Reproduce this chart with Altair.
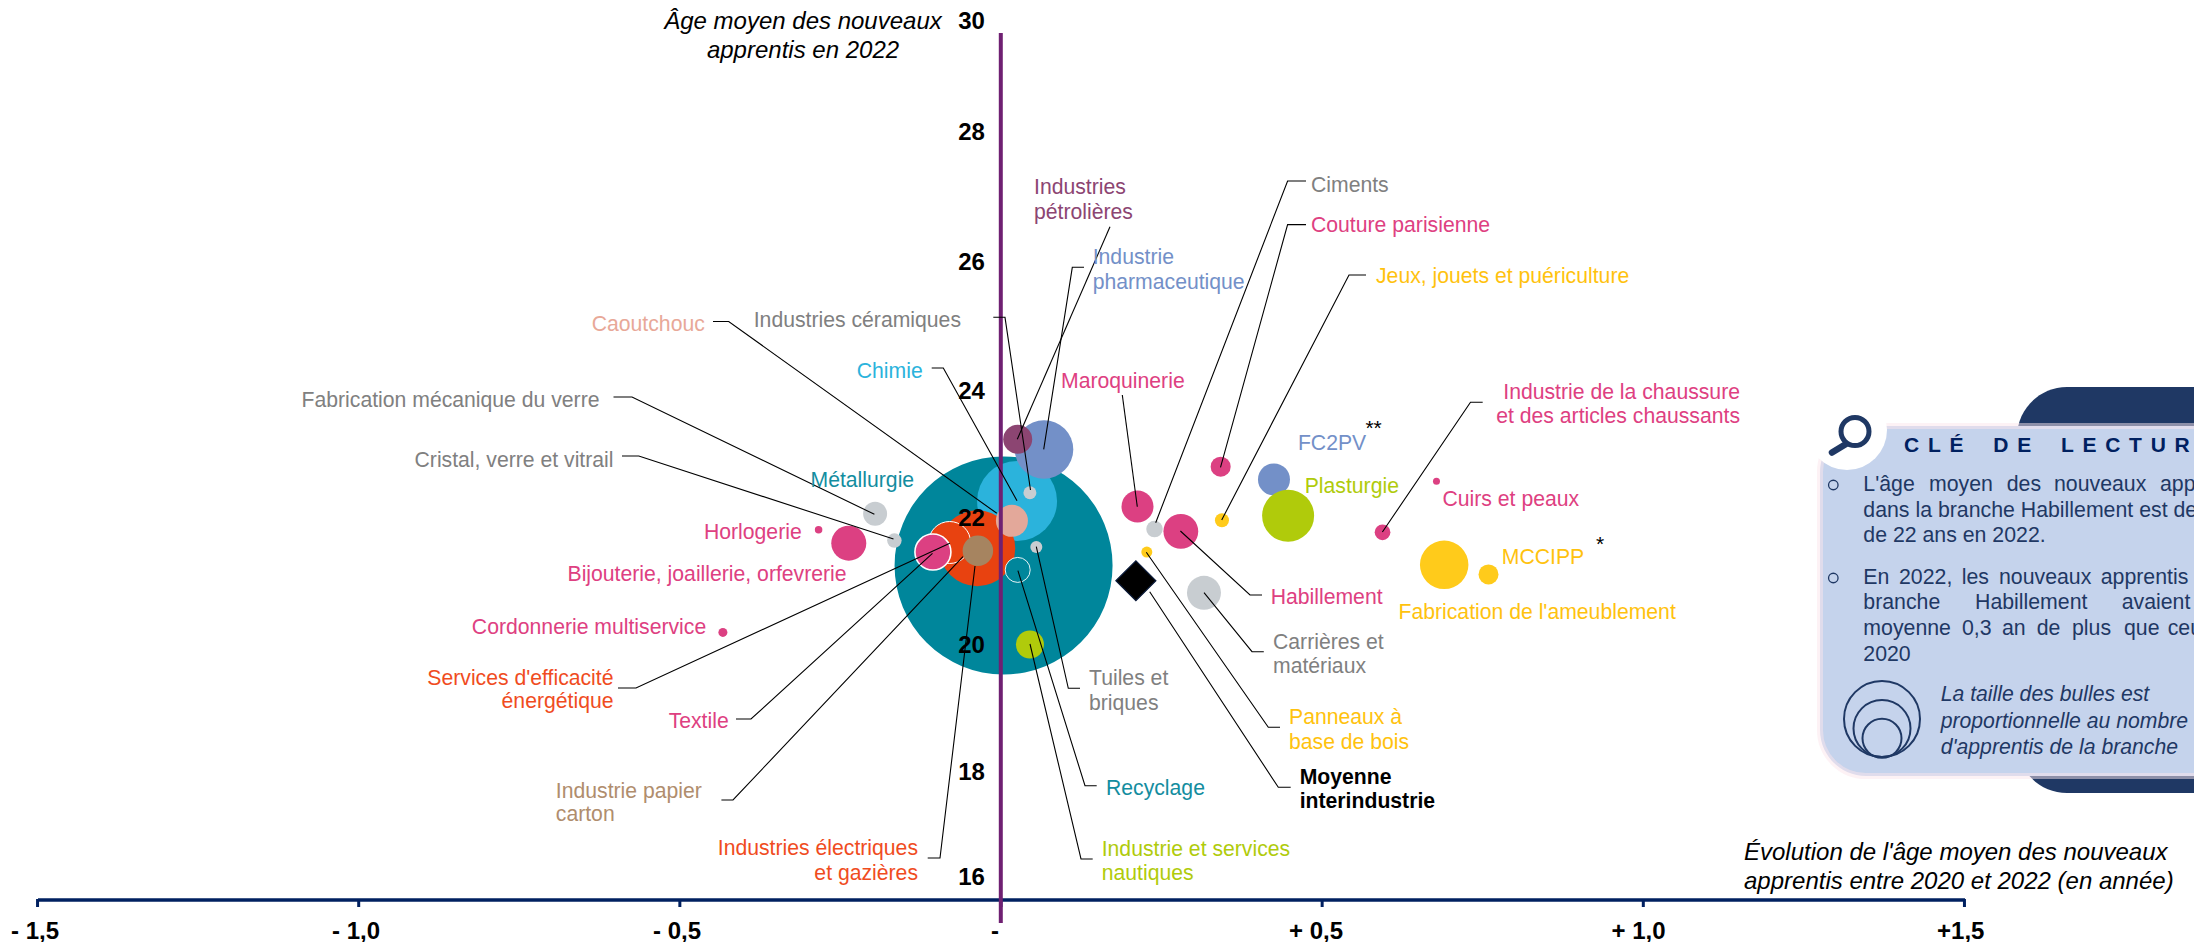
import altair as alt
import pandas as pd

# ---------- chart values (x: évolution en année, y: âge moyen, d: taille de bulle) ----------
TEAL, SKY, ORANGE, TAN, SALMON = "#00869B", "#2BB3DC", "#E84210", "#A68460", "#E3A89A"
PLUM, BLUE, GREY, LIME, PINK, YELLOW = "#8C4572", "#7390C8", "#C8CDD1", "#B0CB0B", "#DC4082", "#FFCB1B"

names = ["Métallurgie", "Chimie", "Industrie pharmaceutique", "Industries pétrolières",
         "Industries électriques et gazières", "Services d'efficacité énergétique", "Textile",
         "Industrie papier carton", "Caoutchouc", "Industries céramiques", "Tuiles et briques",
         "Recyclage", "Industrie et services nautiques", "Fabrication mécanique du verre",
         "Cristal, verre et vitrail", "Horlogerie", "Bijouterie, joaillerie, orfevrerie",
         "Cordonnerie multiservice", "Maroquinerie", "Ciments", "Habillement",
         "Panneaux à base de bois", "Carrières et matériaux", "Couture parisienne",
         "Jeux, jouets et puériculture", "FC2PV", "Plasturgie",
         "Industrie de la chaussure", "Cuirs et peaux", "Fabrication de l'ameublement", "MCCIPP"]
evolution = [0.004, 0.025, 0.067, 0.026, -0.037, -0.08, -0.106, -0.036, 0.017, 0.045, 0.055, 0.026, 0.045,
             -0.196, -0.166, -0.284, -0.237, -0.433, 0.2125, 0.239, 0.28, 0.227, 0.316, 0.342, 0.344,
             0.425, 0.447, 0.594, 0.678, 0.69, 0.759]
age = [21.24, 22.25, 23.06, 23.22, 21.51, 21.6, 21.45, 21.47, 21.94, 22.38, 21.53, 21.17, 20.0,
       22.05, 21.63, 21.8, 21.59, 20.19, 22.165, 21.81, 21.775, 21.45, 20.81, 22.79, 21.95,
       22.59, 22.02, 21.76, 22.56, 21.25, 21.1]
bubble = [218, 80, 58.5, 29, 76, 42, 36, 30.5, 32, 13, 12, 25, 28,
          24, 14.5, 7.5, 35, 9, 32, 16.5, 34.8, 11, 34, 20, 14,
          32, 52, 15.7, 7, 48.5, 20]
colours = [TEAL, SKY, BLUE, PLUM, ORANGE, ORANGE, PINK, TAN, SALMON, GREY, GREY, TEAL, LIME,
           GREY, GREY, PINK, PINK, PINK, PINK, GREY, PINK, YELLOW, GREY, PINK, YELLOW,
           BLUE, LIME, PINK, PINK, YELLOW, YELLOW]
outline = {"Services d'efficacité énergétique": 1.0, "Textile": 1.6, "Recyclage": 0.9}
avg_x, avg_y = [0.21], [21.0]

x_ticks = [-1.5, -1.0, -0.5, 0.0, 0.5, 1.0, 1.5]
y_labels = ["30", "28", "26", "24", "22", "20", "18", "16"]

# ---------- page reading -> scale units (for annotations) ----------
def dx(px): return (px - 1001) / 642.3
def dy(py): return 22 - (py - 517) / 63.75

xs = alt.Scale(domain=[dx(8), dx(2194)], nice=False, zero=False)
ys = alt.Scale(domain=[dy(942), dy(8)], nice=False, zero=False)
X = alt.X("x:Q", scale=xs, axis=None)
Y = alt.Y("y:Q", scale=ys, axis=None)
FONT = "Liberation Sans"
NAVY = "#002060"
INK = "#1F3864"
LPINK, LGREY, LYEL, LTEAL = "#DE4081", "#808080", "#FFC20E", "#138D9F"


def text_layer(rows, size=21.2, **kw):
    df = pd.DataFrame([{"text": r[0], "x": dx(r[1]), "y": dy(r[2] + 1.8), "c": r[3]} for r in rows])
    return alt.Chart(df).mark_text(font=FONT, fontSize=size, baseline="middle", **kw).encode(
        x=X, y=Y, text="text:N", color=alt.Color("c:N", scale=None))


def rect(px0, px1, py0, py1, colour, **kw):
    df = pd.DataFrame([{"x": dx(px0), "x2": dx(px1), "y": dy(py0), "y2": dy(py1)}])
    return alt.Chart(df).mark_rect(color=colour, **kw).encode(x=X, x2="x2:Q", y=Y, y2="y2:Q")


def segs(rows, colour, width, **kw):
    df = pd.DataFrame([{"x": dx(a), "x2": dx(c), "y": dy(b), "y2": dy(d)} for a, b, c, d in rows])
    return alt.Chart(df).mark_rule(color=colour, strokeWidth=width, **kw).encode(x=X, x2="x2:Q", y=Y, y2="y2:Q")


def rings(rows, **kw):
    df = pd.DataFrame([{"x": dx(a), "y": dy(b), "s": d * d} for a, b, d in rows])
    return alt.Chart(df).mark_point(opacity=1, **kw).encode(x=X, y=Y, size=alt.Size("s:Q", scale=None))


# ---------- bubbles ----------
bdf = pd.DataFrame({"name": names, "x": evolution, "y": age, "d": bubble, "c": colours})
bdf["s"] = bdf["d"] ** 2
bdf["sw"] = [outline.get(n, 0) for n in names]
bubbles = alt.Chart(bdf).mark_point(filled=True, opacity=1, shape="circle").encode(
    x=X, y=Y, size=alt.Size("s:Q", scale=None), color=alt.Color("c:N", scale=None),
    stroke=alt.value("white"), strokeWidth=alt.StrokeWidth("sw:Q", scale=None))
diamond = alt.Chart(pd.DataFrame({"x": avg_x, "y": avg_y})).mark_point(
    shape="diamond", filled=True, opacity=1, size=1600, color="black", stroke="#0B1B3A", strokeWidth=1.2
).encode(x=X, y=Y)

# ---------- leaders ----------
leaders = [
    [(1306, 181), (1287.6, 181), (1155.7, 522.7)],
    [(1306, 224.6), (1287.6, 224.6), (1220.5, 467.3)],
    [(1366, 275), (1349, 275), (1221.7, 520)],
    [(1482.7, 402.3), (1470.5, 402.3), (1382.4, 532)],
    [(1122.3, 395), (1137.3, 506.7)],
    [(1180.4, 531), (1250, 595), (1262, 595)],
    [(1204, 592.7), (1252, 651.7), (1263.8, 651.7)],
    [(1146.3, 552.3), (1268.3, 727.3), (1280, 727.3)],
    [(1149.7, 591.7), (1278.3, 787.3), (1290.7, 787.3)],
    [(1036.3, 546.7), (1068.3, 688.3), (1080, 688.3)],
    [(1017.9, 570.7), (1085, 785.7), (1096.7, 785.7)],
    [(1030, 644), (1081, 859), (1092.7, 859)],
    [(975, 566), (940, 858), (927.7, 858)],
    [(963, 556.7), (733, 800), (721.4, 800)],
    [(932.5, 553.3), (751, 719), (736, 719)],
    [(949.8, 543.3), (636, 688), (618, 688)],
    [(893.5, 539), (638.8, 456), (622, 456)],
    [(874.4, 514.3), (632, 397), (613.5, 397)],
    [(996.8, 513.3), (728.7, 321.5), (713, 321.5)],
    [(1017, 500.7), (943.3, 368), (931.7, 368)],
    [(1030.5, 490), (1005, 317.3), (993.3, 317.3)],
    [(1110, 226.7), (1017.3, 439.3)],
    [(1084, 267.3), (1072.3, 267.3), (1043.7, 449.3)],
]
leader_rows = [{"id": i, "k": k, "x": dx(p[0]), "y": dy(p[1])} for i, pts in enumerate(leaders) for k, p in enumerate(pts)]
leader_layer = alt.Chart(pd.DataFrame(leader_rows)).mark_line(color="#000000", strokeWidth=1.1).encode(
    x=X, y=Y, detail="id:N", order="k:Q")

# ---------- labels ----------
left = [
    ("Industries", 1034, 186, PLUM), ("pétrolières", 1034, 211, PLUM),
    ("Industrie", 1092.7, 256, BLUE), ("pharmaceutique", 1092.7, 281, BLUE),
    ("Ciments", 1311, 184, LGREY), ("Couture parisienne", 1311, 224.6, LPINK),
    ("Jeux, jouets et puériculture", 1376, 275, LYEL), ("Maroquinerie", 1061, 380, LPINK),
    ("Métallurgie", 810.5, 478.7, LTEAL), ("Industrie papier", 555.8, 790, "#B08D6D"), ("carton", 555.8, 813, "#B08D6D"),
    ("Industrie et services", 1101.7, 847.7, LIME), ("nautiques", 1101.7, 871.7, LIME),
    ("Recyclage", 1106, 786.7, LTEAL), ("Tuiles et", 1089, 677, LGREY), ("briques", 1089, 701.7, LGREY),
    ("Panneaux à", 1289, 715.7, LYEL), ("base de bois", 1289, 740.7, LYEL),
    ("Carrières et", 1273, 640.7, LGREY), ("matériaux", 1273, 665, LGREY),
    ("Habillement", 1270.7, 595.7, LPINK), ("Fabrication de l'ameublement", 1398.5, 610.7, LYEL),
    ("MCCIPP", 1501.8, 556.3, LYEL), ("Cuirs et peaux", 1442.5, 497.7, LPINK),
    ("Plasturgie", 1304.7, 484.7, LIME), ("FC2PV", 1297.9, 442.3, BLUE),
]
right = [
    ("Caoutchouc", 704.8, 323, "#E8A898"), ("Industries céramiques", 961, 319, LGREY), ("Chimie", 922.7, 370, SKY),
    ("Fabrication mécanique du verre", 599.5, 398.7, LGREY), ("Cristal, verre et vitrail", 613.5, 459, LGREY),
    ("Horlogerie", 801.7, 530.7, LPINK), ("Bijouterie, joaillerie, orfevrerie", 846.6, 573.3, LPINK),
    ("Cordonnerie multiservice", 706.2, 626, LPINK),
    ("Services d'efficacité", 613.5, 677, "#F04C1E"), ("énergétique", 613.5, 700.6, "#F04C1E"),
    ("Textile", 728.7, 720, LPINK), ("Industries électriques", 918, 846.7, "#F04C1E"), ("et gazières", 918, 872.3, "#F04C1E"),
    ("Industrie de la chaussure", 1740, 390.7, LPINK), ("et des articles chaussants", 1740, 415, LPINK),
]
bold = [("Moyenne", 1299.7, 776, "black"), ("interindustrie", 1299.7, 800, "black")]
stars = [("**", 1373.6, 427, "black"), ("*", 1600, 543, "black")]

y_pos = [20, 131, 261, 390, 517, 644, 771, 876]
y_rows = [(t, 971.5, p, "black") for t, p in zip(y_labels, y_pos)]
x_rows = [("- 1,5", 35, 930, "black"), ("- 1,0", 356, 930, "black"), ("- 0,5", 677, 930, "black"), ("-", 995, 930, "black"),
          ("+ 0,5", 1316, 930, "black"), ("+ 1,0", 1638.5, 930, "black"), ("+1,5", 1960.7, 930, "black")]
title_c = [("Âge moyen des nouveaux", 803, 20, "black"), ("apprentis en 2022", 803, 49.3, "black")]
title_l = [("Évolution de l'âge moyen des nouveaux", 1744, 851, "black"),
           ("apprentis entre 2020 et 2022 (en année)", 1744, 880, "black")]

# ---------- key card ----------
card_text = [
    ("L'âge", 1863.3, 483), ("moyen", 1929, 483), ("des", 2006.7, 483), ("nouveaux", 2054, 483), ("apprentis", 2160, 483),
    ("dans la branche Habillement est de", 1863.3, 509), ("de 22 ans en 2022.", 1863.3, 534),
    ("En", 1863.3, 576), ("2022,", 1899, 576), ("les", 1961.7, 576), ("nouveaux", 1999, 576), ("apprentis", 2100.7, 576),
    ("branche", 1863.3, 601), ("Habillement", 1975, 601), ("avaient", 2121.7, 601),
    ("moyenne", 1863.3, 627), ("0,3", 1962, 627), ("an", 2002, 627), ("de", 2036.7, 627), ("plus", 2072, 627), ("que", 2124, 627), ("ceux", 2167.7, 627),
    ("2020", 1863.3, 653),
]
card_note = [("La taille des bulles est", 1940.7, 693, INK), ("proportionnelle au nombre", 1940.7, 720, INK),
             ("d'apprentis de la branche", 1940.7, 746, INK)]
gap = "\u2005\u2006"
word = "\u2005\u2005\u2005\u2006\u2006\u2006\u2006"
key_title = gap.join("CLÉ") + word + gap.join("DE") + word + gap.join("LECTURE")

card = [
    rect(2017, 2400, 387, 793, "#1F3864", cornerRadius=50),
    rect(1820, 2400, 426, 776, "#C5D3EC", cornerRadius=46, stroke="#FBE6EC", strokeWidth=6, strokeOpacity=0.5),
    rings([(1847, 430, 80)], shape="circle", filled=True, color="white", strokeWidth=0),
    rings([(1855, 431.5, 28)], shape="circle", filled=False, color=INK, strokeWidth=5),
    segs([(1832, 452.5, 1846, 444)], INK, 6.5, strokeCap="round"),
    rings([(1833.3, 485, 9.5), (1833.3, 578, 9.5)], shape="circle", filled=False, color=INK, strokeWidth=1.3),
    rings([(1882, 719, 76), (1882, 728.5, 57), (1882, 738.3, 39)], shape="circle", filled=False, color=INK, strokeWidth=2),
    text_layer([(key_title, 1904, 444, "#002060")], size=21, align="left", fontWeight="bold"),
    text_layer([(t, a, b, INK) for t, a, b in card_text], size=21.3, align="left"),
    text_layer(card_note, size=21.2, align="left", fontStyle="italic"),
]

# ---------- axes ----------
axis_x = segs([(38, 900, 1965, 900)], NAVY, 3.6)
ticks = alt.Chart(pd.DataFrame({"x": x_ticks, "y": [dy(899)] * 7, "y2": [dy(907)] * 7})).mark_rule(
    color=NAVY, strokeWidth=3).encode(x=X, y=Y, y2="y2:Q")
axis_y = segs([(1000.8, 33, 1000.8, 923)], "#6F2072", 4)

chart = alt.layer(
    *card, bubbles, diamond, axis_x, ticks, axis_y, leader_layer,
    text_layer(left, align="left"), text_layer(right, align="right"),
    text_layer(bold, align="left", fontWeight="bold"), text_layer(stars, size=21, align="center"),
    text_layer(y_rows, size=24, align="center", fontWeight="bold"),
    text_layer(x_rows, size=24, align="center", fontWeight="bold"),
    text_layer(title_c, size=24, align="center", fontStyle="italic"),
    text_layer(title_l, size=24, align="left", fontStyle="italic"),
).properties(width=2186, height=934, padding=0, autosize=alt.AutoSizeParams(type="none"),
             background="white").configure_view(stroke=None)

chart.save("out.html", embed_options={"renderer": "svg", "actions": False})
